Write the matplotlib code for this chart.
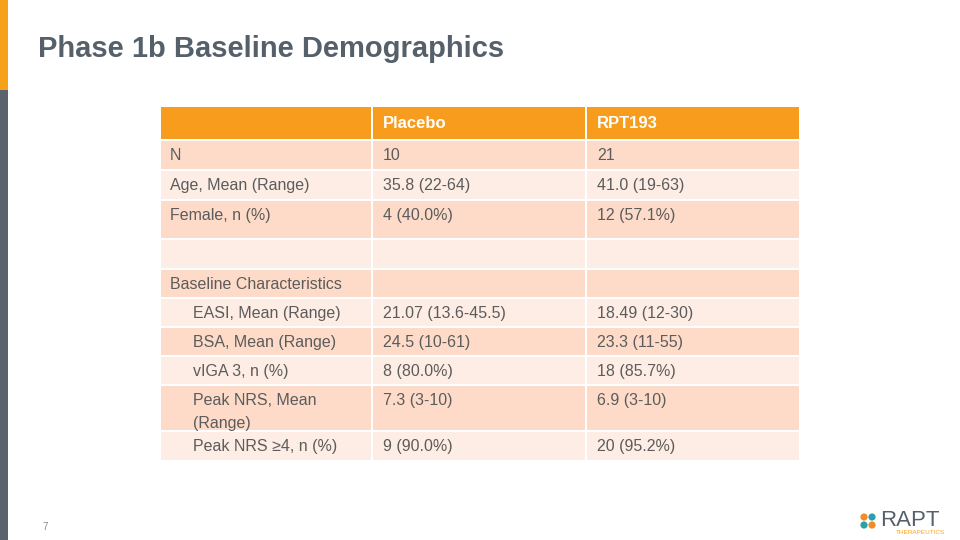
import matplotlib.pyplot as plt
from matplotlib.patches import Rectangle, Circle

plt.rcParams["font.family"] = ["Liberation Sans", "DejaVu Sans"]

title = "Phase 1b Baseline Demographics"
columns = ["", "Placebo", "RPT193"]
labels = ["N", "Age, Mean (Range)", "Female, n (%)", "",
          "Baseline Characteristics", "EASI, Mean (Range)", "BSA, Mean (Range)",
          "vIGA 3, n (%)", "Peak NRS, Mean\n(Range)", "Peak NRS \u22654, n (%)"]
placebo = ["10", "35.8 (22-64)", "4 (40.0%)", "", "", "21.07 (13.6-45.5)",
           "24.5 (10-61)", "8 (80.0%)", "7.3 (3-10)", "9 (90.0%)"]
rpt193 = ["21", "41.0 (19-63)", "12 (57.1%)", "", "", "18.49 (12-30)",
          "23.3 (11-55)", "18 (85.7%)", "6.9 (3-10)", "20 (95.2%)"]
indented = [False, False, False, False, False, True, True, True, True, True]

# layout in pixels
col_x = [160, 372, 586, 800]
row_edges = [106, 140, 170, 200, 239, 269, 298, 327, 356, 385, 431, 461]

orange = "#F89C1E"
dark_row = "#FDDBC8"
light_row = "#FEEDE4"
text_col = "#5C5C5C"
title_col = "#56606B"

fig = plt.figure(figsize=(9.6, 5.4), dpi=100)
ax = fig.add_axes([0, 0, 1, 1])
ax.set_xlim(0, 960)
ax.set_ylim(540, 0)
ax.axis("off")

# side bar
ax.add_patch(Rectangle((0, 0), 8, 90, color="#F7A11A", lw=0))
ax.add_patch(Rectangle((0, 90), 8, 450, color="#5A626D", lw=0))

ax.text(38, 49, title, fontsize=21, fontweight="bold", color=title_col,
        va="center", ha="left")

# table
gap = 1.5
for r in range(len(row_edges) - 1):
    y0, y1 = row_edges[r], row_edges[r + 1]
    if r == 0:
        fc = orange
    else:
        fc = dark_row if r % 2 == 1 else light_row
    for c in range(3):
        ax.add_patch(Rectangle((col_x[c] + gap / 2, y0 + gap / 2),
                               col_x[c + 1] - col_x[c] - gap, y1 - y0 - gap,
                               facecolor=fc, edgecolor="none"))

for c, name in enumerate(columns):
    ax.text(col_x[c] + 11, 124, name, fontsize=12, fontweight="bold",
            color="white", va="center", ha="left")

for i, (lab, p, q) in enumerate(zip(labels, placebo, rpt193)):
    ytop = row_edges[i + 1] + 8
    x_lab = col_x[0] + (33 if indented[i] else 10)
    ax.text(x_lab, ytop, lab, fontsize=11.5, color=text_col, va="top",
            ha="left", linespacing=1.7)
    ax.text(col_x[1] + 11, ytop, p, fontsize=11.5, color=text_col, va="top", ha="left")
    ax.text(col_x[2] + 11, ytop, q, fontsize=11.5, color=text_col, va="top", ha="left")

# page number
ax.text(45, 527, "7", fontsize=7, color="#8A8A8A", ha="center", va="center")

# logo
for (dx, dy), col in zip([(0, 0), (8, 0), (0, 8), (8, 8)],
                         ["#F28C28", "#2E9FA8", "#2E9FA8", "#F28C28"]):
    ax.add_patch(Circle((864 + dx, 517 + dy), 3.6, color=col, lw=0))
ax.text(880, 521, "RAPT", fontsize=16, color="#56606B", va="center", ha="left")
ax.text(896, 533, "THERAPEUTICS", fontsize=4.6, color="#F5A623", va="center", ha="left")

fig.savefig("out.png", dpi=100)
